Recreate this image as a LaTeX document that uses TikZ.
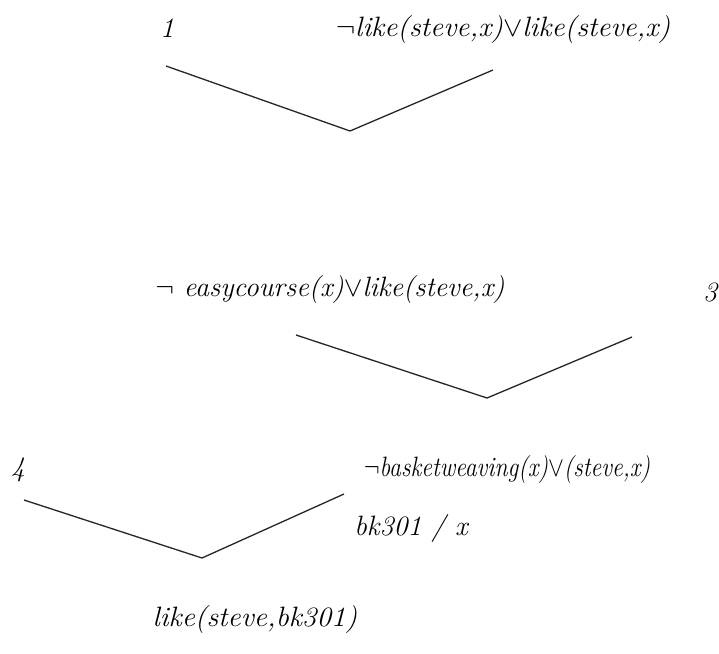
\RequirePackage{fix-cm}
\documentclass[tikz,border=0pt]{standalone}
\usepackage{fontspec}
\begin{document}
\begin{tikzpicture}[x=1pt,y=-1pt,
  lbl/.style={inner sep=0pt, font=\fontsize{28}{33}\selectfont\itshape},
  vline/.style={draw=black!85, line width=1.3pt}]
\useasboundingbox[fill=white] (0,0) rectangle (719,653);
% texts
\node[lbl] (n1) at (167,28) {1};
\node[lbl] (f1) at (503,30) {\scalebox{1.04}[1]{$\neg$like(steve,x)$\vee$like(steve,x)}};
\node[lbl] (f2) at (330,290) {$\neg$ easycourse(x)$\vee$like(steve,x)};
\node[lbl,anchor=west] (n3) at (703,292) {3};
\node[lbl] (n4) at (18,470) {4};
\node[lbl] (f3) at (507,470) {\scalebox{0.85}[1]{$\neg$basketweaving(x)$\vee$(steve,x)}};
\node[lbl] (sub) at (411,528) {bk301 / x};
\node[lbl] (res) at (255,620) {\scalebox{1.04}[1]{like(steve,bk301)}};
% tree connectors
\coordinate (a1) at (166,66);
\coordinate (b1) at (350,131);
\coordinate (c1) at (493,70);
\coordinate (a2) at (296,335);
\coordinate (b2) at (487,398);
\coordinate (c2) at (632,337);
\coordinate (a3) at (24,500);
\coordinate (b3) at (202,558);
\coordinate (c3) at (344,494);
\draw[vline] (a1) -- (b1) -- (c1);
\draw[vline] (a2) -- (b2) -- (c2);
\draw[vline] (a3) -- (b3) -- (c3);
\end{tikzpicture}
\end{document}
